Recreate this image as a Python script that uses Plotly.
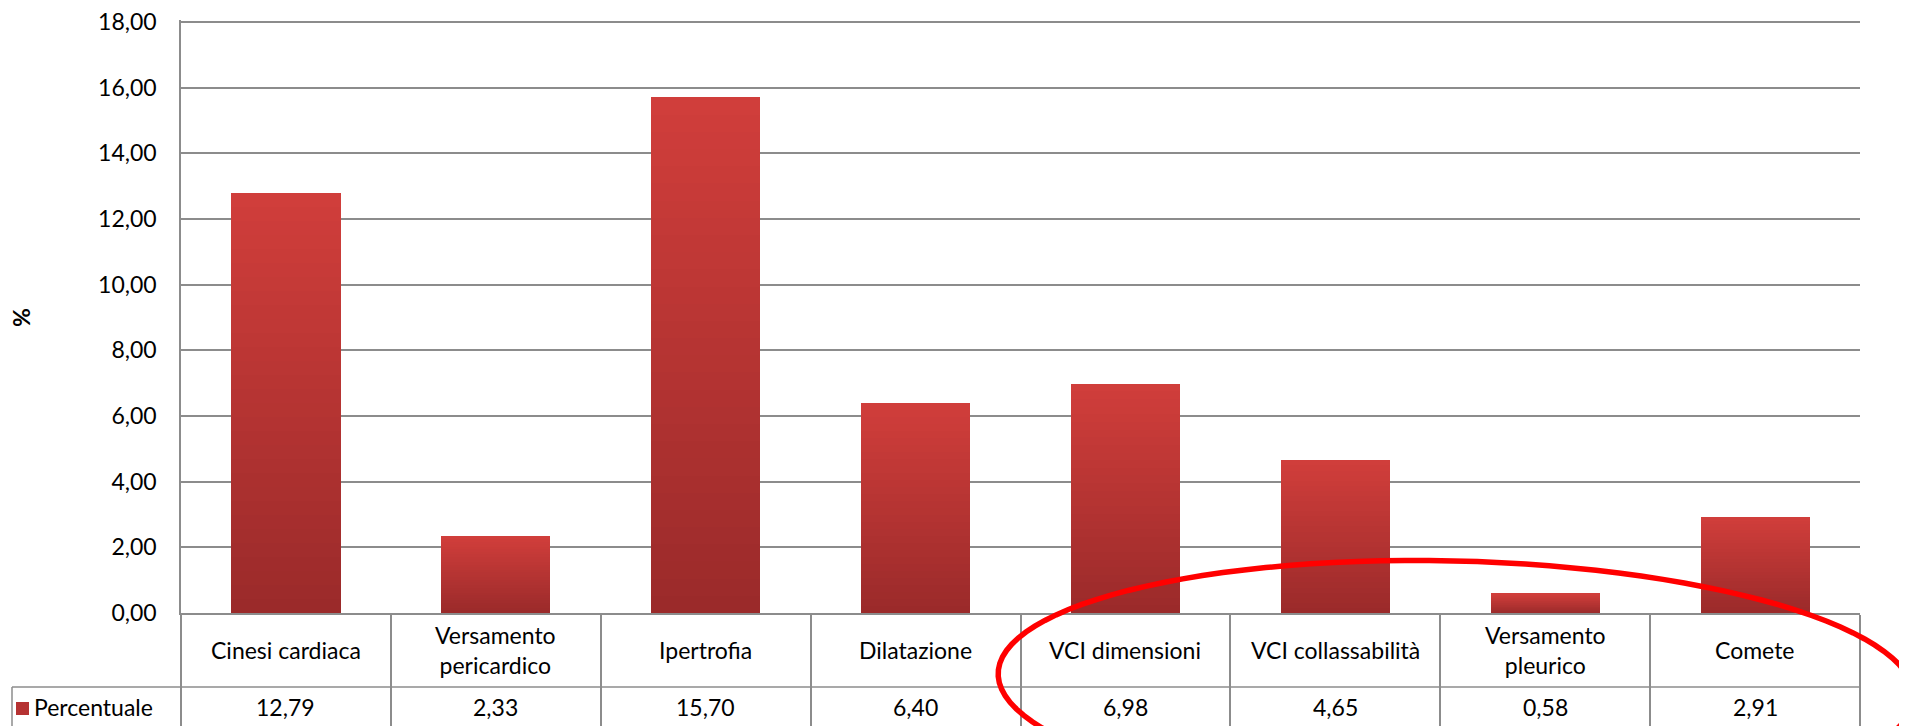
import numpy as np
import plotly.graph_objects as go

# data
categories = ['Cinesi cardiaca', 'Versamento pericardico', 'Ipertrofia', 'Dilatazione',
              'VCI dimensioni', 'VCI collassabilità', 'Versamento pleurico', 'Comete']
category_labels = ['Cinesi cardiaca', 'Versamento<br>pericardico', 'Ipertrofia', 'Dilatazione',
                   'VCI dimensioni', 'VCI collassabilità', 'Versamento<br>pleurico', 'Comete']
percentuale = [12.79, 2.33, 15.70, 6.40, 6.98, 4.65, 0.58, 2.91]
series_name = 'Percentuale'
y_tickvals = [0, 2, 4, 6, 8, 10, 12, 14, 16, 18]
y_max = 18.06  # a hair above 18 so the top gridline is not clipped

FONT = 'Lato'
GRID = '#8c8c8c'

# page geometry (1907 x 726); the browser body adds an 8px margin
PAGE_W, PAGE_H, OFF = 1907, 726, 8
W, H = PAGE_W - OFF, PAGE_H - OFF
# value 0 sits at page y 613, value 18 at page y 22, plot spans x 181..1860
Y0, Y18 = 613, 22
px_per_unit = (Y0 - Y18) / 18
top_px = Y0 - px_per_unit * y_max
L, R, T, B = 181 - OFF, PAGE_W - 1860, top_px - OFF, PAGE_H - Y0
PW, PH = W - L - R, H - T - B


def px_x(x):
    # page pixel -> paper x
    return (x - OFF - L) / PW


def px_y(y):
    # page pixel -> paper y
    return (H - B - (y - OFF)) / PH


fig = go.Figure()

# Excel-like vertical gradient: stack thin slices of each bar, dark at the bottom
n_steps = 30
bottom_rgb = np.array([0x9a, 0x2a, 0x2a])
top_rgb = np.array([0xd1, 0x3e, 0x3b])
for k in range(n_steps):
    t = (k + 0.5) / n_steps
    r, g, b = (bottom_rgb + (top_rgb - bottom_rgb) * t).round().astype(int)
    fig.add_trace(go.Bar(
        x=categories,
        y=[v / n_steps for v in percentuale],
        name=series_name,
        marker_color=f'rgb({r},{g},{b})',
        marker_line_width=0,
        showlegend=False,
        hoverinfo='skip'
    ))

fig.update_layout(
    template='none',
    barmode='stack',
    bargap=0.48,
    width=W,
    height=H,
    margin=dict(l=L, r=R, t=T, b=B, pad=0, autoexpand=False),
    paper_bgcolor='white',
    plot_bgcolor='white',
    separators=',.',
    font=dict(family=FONT, size=23, color='black'),
    showlegend=False,
    xaxis=dict(
        type='category',
        automargin=False,
        showticklabels=False,
        ticks='outside',
        tickson='boundaries',
        ticklen=140,
        tickcolor=GRID,
        tickwidth=1.5,
        showline=True,
        linecolor=GRID,
        linewidth=1.5,
        showgrid=False,
        fixedrange=True
    ),
    yaxis=dict(
        automargin=False,
        range=[0, y_max],
        tickvals=y_tickvals,
        tickformat='.2f',
        ticks='',
        ticklabelstandoff=18,
        ticklabeloverflow='allow',
        showgrid=True,
        gridcolor=GRID,
        gridwidth=1.5,
        showline=True,
        linecolor=GRID,
        linewidth=1.5,
        zeroline=False,
        fixedrange=True
    )
)

# y axis title
fig.add_annotation(x=px_x(21), y=px_y(318), xref='paper', yref='paper', text='<b>%</b>',
                   textangle=-90, showarrow=False, xanchor='center', yanchor='middle')

# data table under the axis: category row and value row
row_line_y = px_y(687)
cell_left = px_x(12)
fig.add_shape(type='line', xref='paper', yref='paper', x0=cell_left, x1=1,
              y0=row_line_y, y1=row_line_y, line=dict(color=GRID, width=1.5))
fig.add_shape(type='line', xref='paper', yref='paper', x0=cell_left, x1=cell_left,
              y0=row_line_y, y1=px_y(760), line=dict(color=GRID, width=1.5))

for i, (lab, v) in enumerate(zip(category_labels, percentuale)):
    fig.add_annotation(x=i, y=px_y(650), xref='x', yref='paper', text=lab,
                       showarrow=False, yanchor='middle', align='center')
    fig.add_annotation(x=i, y=px_y(707), xref='x', yref='paper',
                       text=f'{v:.2f}'.replace('.', ','),
                       showarrow=False, yanchor='middle')

# legend key cell
fig.add_shape(type='rect', xref='paper', yref='paper', x0=px_x(16), x1=px_x(29),
              y0=px_y(715), y1=px_y(702), line_width=0, fillcolor='#b53232')
fig.add_annotation(x=px_x(32), y=px_y(707), xref='paper', yref='paper',
                   text=series_name, showarrow=False, xanchor='left', yanchor='middle')

# hand drawn red ellipse around the last four categories
cx, cy, a, b, th = 1456, 685, 458, 124, np.radians(1.5)
tt = np.linspace(0, 2 * np.pi, 120)
ex = cx + a * np.cos(tt) * np.cos(th) - b * np.sin(tt) * np.sin(th)
ey = cy + a * np.cos(tt) * np.sin(th) + b * np.sin(tt) * np.cos(th)
path = 'M ' + ' L '.join(f'{px_x(x):.5f},{px_y(y):.5f}' for x, y in zip(ex, ey)) + ' Z'
fig.add_shape(type='path', xref='paper', yref='paper', path=path,
              line=dict(color='#ff0000', width=5.5))

fig.write_html('out.html')
